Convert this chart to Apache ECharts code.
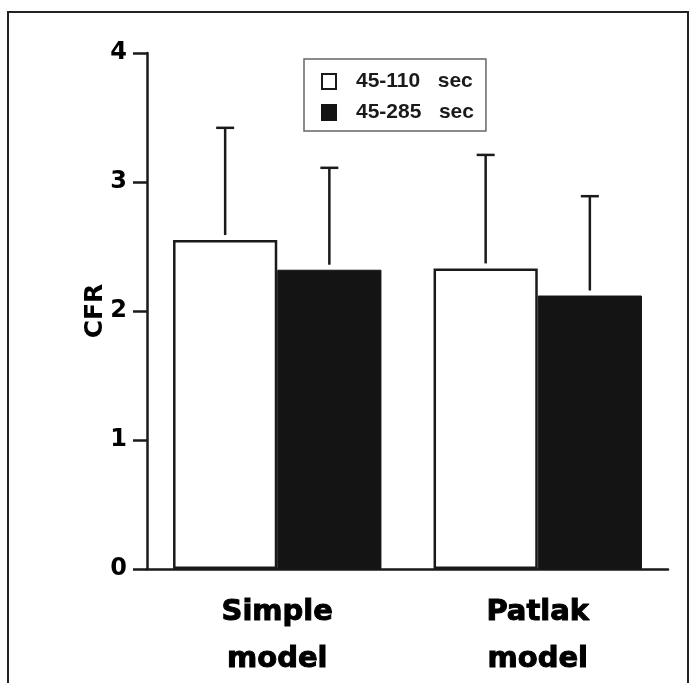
<!DOCTYPE html>
<html>
<head>
<meta charset="utf-8">
<script src="https://cdn.jsdelivr.net/npm/echarts@6/dist/echarts.min.js"></script>
<style>
  html, body { margin: 0; padding: 0; background: #fff; }
  #chart { width: 696px; height: 683px; }
</style>
</head>
<body>
<div id="chart"></div>
<script>
const categories = ['Simple\nmodel', 'Patlak\nmodel']
const seriesNames = ['45-110   sec', '45-285   sec']
const shortMeans = [2.55, 2.33]
const shortSd = [0.87, 0.88]
const longMeans = [2.32, 2.12]
const longSd = [0.79, 0.77]
const yTicks = [0, 1, 2, 3, 4]

const ink = '#1a1a1a'
const groupGap = 0.2 // barCategoryGap as fraction

// error bar for one series; side -1 = left bar, +1 = right bar
const errorBar = (means, sds, side) => ({
  type: 'custom',
  z: 5,
  data: means.map((m, i) => [i, m, m + sds[i]]),
  renderItem: (params, api) => {
    const band = api.size([1, 0])[0]
    const off = side * band * (1 - groupGap) / 4
    const base = api.coord([api.value(0), api.value(1)])
    const top = api.coord([api.value(0), api.value(2)])
    const x = base[0] + off
    const style = { stroke: ink, lineWidth: 2.5 }
    return {
      type: 'group',
      children: [
        { type: 'line', shape: { x1: x, y1: base[1] - 5, x2: x, y2: top[1] }, style },
        { type: 'line', shape: { x1: x - 9, y1: top[1], x2: x + 9, y2: top[1] }, style }
      ]
    }
  }
})

const chart = echarts.init(document.getElementById('chart'))
chart.setOption({
  animation: false,
  backgroundColor: '#fff',
  graphic: [{
    type: 'rect',
    shape: { x: 8, y: 12, width: 680, height: 700 },
    style: { fill: 'none', stroke: '#222', lineWidth: 2 }
  }],
  legend: {
    orient: 'vertical',
    left: 304,
    top: 59,
    padding: [12, 12, 8, 17],
    itemGap: 10,
    itemWidth: 14,
    itemHeight: 15,
    borderColor: '#666',
    borderWidth: 1.5,
    icon: 'rect',
    data: seriesNames,
    textStyle: {
      fontFamily: 'Liberation Sans',
      fontWeight: 'bold',
      fontSize: 21,
      color: ink,
      padding: [0, 0, 0, 15]
    }
  },
  grid: { left: 147, right: 28, top: 53, bottom: 105 },
  xAxis: {
    type: 'category',
    data: categories,
    axisTick: { show: false },
    axisLine: { lineStyle: { color: ink, width: 2.5 } },
    axisLabel: {
      margin: 20,
      color: '#000',
      fontFamily: 'DejaVu Sans',
      fontWeight: 'bold',
      fontSize: 29,
      lineHeight: 47,
      textBorderColor: '#000',
      textBorderWidth: 1
    }
  },
  yAxis: {
    type: 'value',
    min: yTicks[0],
    max: yTicks[yTicks.length - 1],
    interval: 1,
    name: 'CFR',
    nameLocation: 'middle',
    nameMoveOverlap: false,
    nameGap: 39,
    nameTextStyle: { fontFamily: 'DejaVu Sans', fontWeight: 'bold', fontSize: 25, color: '#000' },
    splitLine: { show: false },
    axisLine: { show: true, lineStyle: { color: ink, width: 2.5 } },
    axisTick: { show: true, length: 14, lineStyle: { color: ink, width: 2.5 } },
    axisLabel: {
      margin: 20,
      color: '#000',
      fontFamily: 'DejaVu Sans',
      fontWeight: 'bold',
      fontSize: 24
    }
  },
  series: [
    {
      name: seriesNames[0],
      type: 'bar',
      data: shortMeans,
      barGap: 0,
      barCategoryGap: (groupGap * 100) + '%',
      itemStyle: { color: '#fff', borderColor: ink, borderWidth: 2.5 }
    },
    {
      name: seriesNames[1],
      type: 'bar',
      data: longMeans,
      itemStyle: { color: '#141414', borderColor: '#141414', borderWidth: 1 }
    },
    errorBar(shortMeans, shortSd, -1),
    errorBar(longMeans, longSd, 1)
  ]
})
</script>
</body>
</html>
